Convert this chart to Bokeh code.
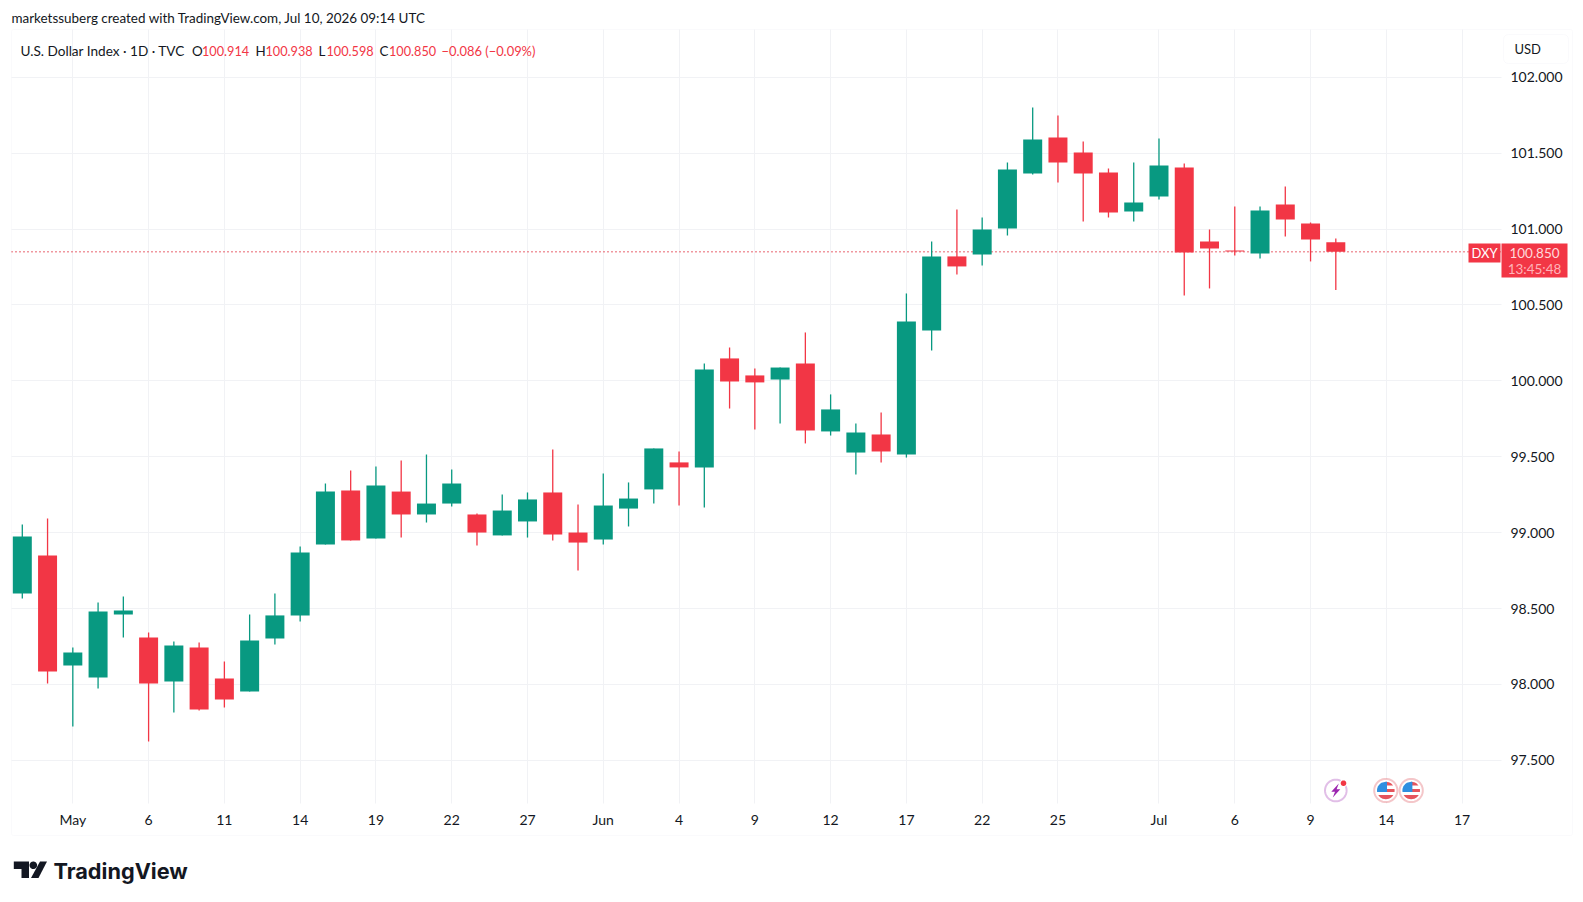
import numpy as np
from bokeh.plotting import figure
from bokeh.models import (ColumnDataSource, FixedTicker, Label, BoxAnnotation, PolyAnnotation,
                          NumeralTickFormatter, Range1d)
from bokeh.embed import file_html
from bokeh.resources import INLINE

opens = [98.600,98.850,98.125,98.046,98.461,98.310,98.020,98.244,98.040,97.954,98.303,98.455,
         98.922,99.278,98.962,99.271,99.120,99.192,99.120,98.982,99.074,99.265,99.001,98.955,
         99.159,99.285,99.463,99.430,100.148,100.036,100.009,100.115,99.667,99.528,99.647,99.515,
         100.332,100.820,100.833,101.004,101.366,101.604,101.505,101.373,101.116,101.215,101.406,
         100.918,100.859,100.839,101.162,101.037,100.914]
highs = [99.054,99.094,98.244,98.540,98.580,98.343,98.283,98.277,98.152,98.461,98.600,98.909,
         99.324,99.410,99.436,99.476,99.515,99.416,99.127,99.252,99.265,99.548,99.186,99.390,
         99.331,99.555,99.535,100.115,100.220,100.082,100.088,100.319,99.911,99.719,99.792,100.576,
         100.918,101.129,101.077,101.439,101.801,101.749,101.577,101.399,101.439,101.597,101.432,
         100.998,101.149,101.149,101.281,101.044,100.938]
lows = [98.567,98.007,97.723,97.974,98.310,97.624,97.816,97.829,97.848,97.954,98.264,98.415,
        98.922,98.949,98.962,98.968,99.067,99.173,98.916,98.982,98.968,98.949,98.751,98.922,
        99.041,99.192,99.179,99.166,99.818,99.680,99.719,99.588,99.640,99.383,99.463,99.495,
        100.200,100.701,100.760,100.958,101.360,101.307,101.050,101.077,101.050,101.195,100.563,
        100.609,100.826,100.806,100.951,100.787,100.598]
closes = [98.975,98.086,98.211,98.481,98.488,98.007,98.257,97.835,97.901,98.290,98.455,98.870,
          99.271,98.949,99.311,99.120,99.192,99.324,99.001,99.146,99.219,98.988,98.935,99.179,
          99.225,99.555,99.430,100.075,99.996,99.990,100.088,99.673,99.812,99.660,99.535,100.391,
          100.820,100.754,100.998,101.393,101.590,101.439,101.366,101.110,101.175,101.419,100.846,
          100.872,100.852,101.123,101.063,100.932,100.850]
price_ticks = [97.5,98.0,98.5,99.0,99.5,100.0,100.5,101.0,101.5,102.0]
time_ticks = {2:"May",5:"6",8:"11",11:"14",14:"19",17:"22",20:"27",23:"Jun",26:"4",29:"9",
              32:"12",35:"17",38:"22",41:"25",45:"Jul",48:"6",51:"9",54:"14",57:"17"}

W, H = 1575, 890
UI = "Lato"
RED, GREEN, INK, EDGE, GRID = "#F23645", "#089981", "#131722", "#EDEFF4", "#F1F2F5"
LVL = "annotation"

# the plot area fills the canvas; the pane proper runs from PANE_L..PANE_R and PANE_B..PANE_T
PANE_L, PANE_R, PANE_B, PANE_T = -0.4276, 58.56, 97.2161, 102.3149

p = figure(width=W, height=H, output_backend="svg", toolbar_location=None,
           x_range=Range1d(-0.8630, 61.489), y_range=Range1d(96.6429, 102.5059),
           y_axis_location="right", min_border=0, outline_line_color=None,
           background_fill_color="white", border_fill_color="white")

for ax in (p.xaxis[0], p.yaxis[0]):
    ax.axis_line_color = None
    ax.major_tick_line_color = None
    ax.minor_tick_line_color = None
    ax.major_label_text_font = UI
    ax.major_label_text_color = INK
    ax.major_label_text_font_size = "14px"
p.xaxis[0].ticker = FixedTicker(ticks=list(time_ticks))
p.xaxis[0].major_label_overrides = dict(time_ticks)
p.xaxis[0].major_label_standoff = 2
p.xaxis[0].fixed_location = PANE_B
p.yaxis[0].ticker = FixedTicker(ticks=price_ticks)
p.yaxis[0].formatter = NumeralTickFormatter(format="0.000")
p.yaxis[0].major_label_standoff = 3
p.yaxis[0].fixed_location = PANE_R
p.xgrid.grid_line_color = GRID
p.ygrid.grid_line_color = GRID
p.xgrid.ticker = FixedTicker(ticks=list(time_ticks))
p.ygrid.ticker = FixedTicker(ticks=price_ticks)
p.xgrid.cross_bounds = (PANE_B, PANE_T)
p.ygrid.cross_bounds = (PANE_L, PANE_R)

colors = [GREEN if c > o else RED for o, c in zip(opens, closes)]
src = ColumnDataSource(dict(x=list(range(len(opens))), o=opens, h=highs, l=lows, c=closes,
                            top=[max(a, b) for a, b in zip(opens, closes)],
                            bot=[min(a, b) for a, b in zip(opens, closes)], col=colors))

p.line([PANE_L, PANE_R], [closes[-1], closes[-1]], line_color="#E0303F", line_width=1.5,
       line_dash="1 3")
p.segment("x", "h", "x", "l", source=src, line_color="col", line_width=1.3)
p.vbar("x", 0.752, "top", "bot", source=src, fill_color="col", line_color=None)


def box(l, r, t, b, fill=None, line=None, radius=0):
    p.add_layout(BoxAnnotation(left=l, right=r, top=t, bottom=b,
                               left_units="canvas", right_units="canvas", top_units="canvas",
                               bottom_units="canvas", fill_color=fill, fill_alpha=1 if fill else 0,
                               line_color=line, line_width=1, border_radius=radius, level=LVL,
                               editable=False))


def poly(xs, ys, fill=None, line=None, lw=1):
    p.add_layout(PolyAnnotation(xs=[float(v) for v in xs], ys=[float(v) for v in ys],
                                xs_units="canvas", ys_units="canvas",
                                fill_color=fill, fill_alpha=1 if fill else 0,
                                line_color=line, line_width=lw, level=LVL))


def circle(cx, cy, r, **kw):
    a = np.linspace(0, 2 * np.pi, 48, endpoint=False)
    poly(cx + r * np.cos(a), cy + r * np.sin(a), **kw)


def label(x, y, text, color=INK, size=13.5, align="left", font=UI, style="normal"):
    p.add_layout(Label(x=x, y=y, x_units="canvas", y_units="canvas", text=text,
                       text_color=color, text_font=font, text_font_size=f"{size}px",
                       text_font_style=style, text_align=align, text_baseline="middle",
                       level=LVL))


# panel frame and currency button
box(11, 1572, 29, 835, line=EDGE, radius=2)
box(1503, 1568, 34, 63, fill="white", line=EDGE, radius=5)
label(1514, 48, "USD", size=13)

# header and legend
label(11, 17.5, "marketssuberg created with TradingView.com, Jul 10, 2026 09:14 UTC", size=13.45)
label(20, 50, "U.S. Dollar Index · 1D · TVC", size=13.6)
for lx, vx, ch, val in [(191.5, 201.5, "O", opens[-1]), (255, 265, "H", highs[-1]),
                        (318, 326, "L", lows[-1]), (379, 388.5, "C", closes[-1])]:
    label(lx, 50, ch, size=13.4)
    label(vx, 50, f"{val:.3f}", color=RED, size=12.7)
label(441, 50, "−0.086 (−0.09%)", color=RED, size=12.9)

# last-price tags
box(1468, 1500, 243, 262, fill=RED)
label(1484, 252, "DXY", color="white", size=13, align="center")
box(1501, 1567, 243, 277, fill=RED)
label(1534, 252, f"{closes[-1]:.3f}", color="#FFD9DC", size=13.5, align="center")
label(1534, 268, "13:45:48", color="#FFB3B9", size=13.5, align="center")

# event icons
cx, cy = 1335.3, 790
circle(cx, cy, 10.8, fill="white", line="#9C27B0", lw=2)
poly([cx + 3, cx - 4.5, cx - 0.8, cx - 3, cx + 4.5, cx + 0.8],
     [cy - 7, cy + 1.2, cy + 1.2, cy + 7, cy - 1.2, cy - 1.2], fill="#9C27B0")
circle(1343, 782.7, 3.8, fill="white")
circle(1343, 782.7, 2.8, fill=RED)

for fx in (1385.3, 1410.7):
    circle(fx, cy, 11.6, fill="white", line="#D9434C", lw=2)
    R = 8.8
    for y0, y1 in [(-R, -5), (-1.5, 1.5), (4.5, R)]:
        ys = np.linspace(y0, y1, 8)
        hw = np.sqrt(np.maximum(R * R - ys * ys, 0))
        x_l = -hw if y0 > 0 else np.zeros(8)
        poly(np.r_[fx + x_l, fx + hw[::-1]], np.r_[cy + ys, cy + ys[::-1]], fill="#E5545C")
    ys = np.linspace(-R, 1.5, 10)
    hw = np.sqrt(np.maximum(R * R - ys * ys, 0))
    poly(np.r_[fx - hw, np.full(10, fx + 1.2)], np.r_[cy + ys, cy + ys[::-1]], fill="#2E8FE0")

# wordmark
poly([13.3, 28.5, 28.5, 21, 21, 13.3], [861, 861, 877.5, 877.5, 868.5, 868.5], fill=INK)
circle(32.8, 864.8, 3.8, fill=INK)
poly([39.5, 46.5, 38, 30.5], [861, 861, 877.5, 877.5], fill=INK)
label(53, 870, "TradingView", size=21.7, font="Inter", style="bold")

open("out.html", "w").write(file_html(p, INLINE))
